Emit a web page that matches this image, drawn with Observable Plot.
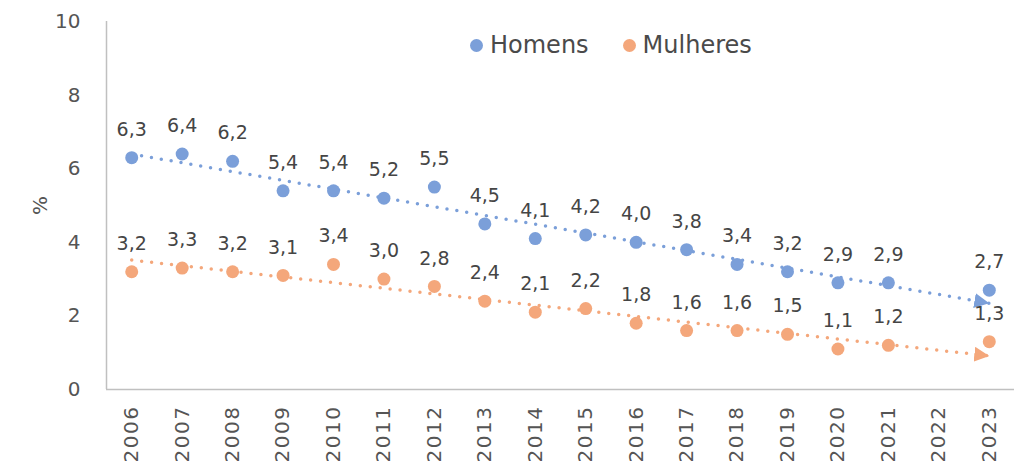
<!DOCTYPE html>
<html>
<head>
<meta charset="utf-8">
<script src="https://cdn.jsdelivr.net/npm/d3@7"></script>
<script src="https://cdn.jsdelivr.net/npm/@observablehq/plot@0.6"></script>
<style>
  body { margin: 0; background: #fff; font-family: "DejaVu Sans", sans-serif; }
  #wrap { position: relative; width: 1028px; height: 474px; }
  #legend { position: absolute; top: 31px; left: 470px; display: flex; align-items: center; font-size: 24px; color: #4a4a4a; white-space: nowrap; z-index: 2; }
  #legend .item { display: flex; align-items: center; margin-right: 34px; }
  #legend .sw { width: 13px; height: 13px; border-radius: 50%; margin-right: 7px; display: inline-block; }
  svg g[aria-label="x-axis tick label"] text { letter-spacing: 1.5px; }
</style>
</head>
<body>
<div id="wrap"><div id="legend"></div></div>
<script>
const years = [2006, 2007, 2008, 2009, 2010, 2011, 2012, 2013, 2014, 2015, 2016, 2017, 2018, 2019, 2020, 2021, 2022, 2023];
const homens = [6.3, 6.4, 6.2, 5.4, 5.4, 5.2, 5.5, 4.5, 4.1, 4.2, 4.0, 3.8, 3.4, 3.2, 2.9, 2.9, null, 2.7];
const mulheres = [3.2, 3.3, 3.2, 3.1, 3.4, 3.0, 2.8, 2.4, 2.1, 2.2, 1.8, 1.6, 1.6, 1.5, 1.1, 1.2, null, 1.3];
const seriesNames = ["Homens", "Mulheres"];
const seriesColors = ["#7b9fd9", "#f4a77b"];
const yTicks = [0, 2, 4, 6, 8, 10];
const yLabel = "%";

const seriesValues = [homens, mulheres];
const points = [];
seriesNames.forEach((s, k) => years.forEach((yr, i) => {
  if (seriesValues[k][i] != null) points.push({year: yr, value: seriesValues[k][i], series: s});
}));

// least-squares linear trend per series (computed from the data)
const trend = [];
seriesNames.forEach((s, k) => {
  const pts = points.filter(d => d.series === s);
  const mx = d3.mean(pts, d => d.year), my = d3.mean(pts, d => d.value);
  const b = d3.sum(pts, d => (d.year - mx) * (d.value - my)) / d3.sum(pts, d => (d.year - mx) ** 2);
  const a = my - b * mx;
  [years[0], years[years.length - 1]].forEach(x => trend.push({year: x, value: a + b * x, series: s}));
});

const NS = "http://www.w3.org/2000/svg";
function triangleMarker(color, context) {
  const doc = (context && context.document) || document;
  const m = doc.createElementNS(NS, "marker");
  m.setAttribute("viewBox", "-15 -7.5 15 15");
  m.setAttribute("markerUnits", "userSpaceOnUse");
  m.setAttribute("markerWidth", "15");
  m.setAttribute("markerHeight", "15");
  m.setAttribute("refX", "0");
  m.setAttribute("refY", "0");
  m.setAttribute("orient", "auto");
  const p = doc.createElementNS(NS, "path");
  p.setAttribute("d", "M-15,-7.5L0,0L-15,7.5Z");
  p.setAttribute("fill", color);
  p.setAttribute("stroke", "none");
  m.appendChild(p);
  return m;
}

const fmt = v => v.toFixed(1).replace(".", ",");

const chart = Plot.plot({
  width: 1028,
  height: 474,
  marginLeft: 106,
  marginRight: 14,
  marginTop: 21,
  marginBottom: 85,
  style: {fontFamily: "DejaVu Sans, sans-serif", fontSize: "19px", color: "#404040", background: "transparent"},
  x: {domain: [years[0] - 0.5, years[years.length - 1] + 0.5]},
  y: {domain: [0, 10]},
  color: {domain: seriesNames, range: seriesColors},
  marks: [
    Plot.ruleX([years[0] - 0.5], {stroke: "#c0c0c0", strokeWidth: 1.5}),
    Plot.ruleY([0], {stroke: "#c0c0c0", strokeWidth: 1.5}),
    Plot.axisY({ticks: yTicks, tickSize: 0, tickPadding: 26, fontSize: 20, fill: "#555555",
      label: yLabel, labelAnchor: "center", labelOffset: 74, labelArrow: "none"}),
    Plot.axisX({ticks: years, tickFormat: d => String(d), tickRotate: -90, tickSize: 0, tickPadding: 16,
      fontSize: 20, fill: "#555555", label: null}),
    Plot.line(trend, {x: "year", y: "value", z: "series", stroke: "series", strokeWidth: 3.5,
      strokeDasharray: "0,10", strokeLinecap: "round", markerEnd: triangleMarker}),
    Plot.dot(points, {x: "year", y: "value", fill: "series", r: 6.5}),
    Plot.text(points, {x: "year", y: "value", text: d => fmt(d.value), dy: -28, fontSize: 19, fill: "#454545"})
  ]
});
document.getElementById("wrap").appendChild(chart);

const legend = document.getElementById("legend");
seriesNames.forEach((s, k) => {
  const it = document.createElement("span");
  it.className = "item";
  const sw = document.createElement("span");
  sw.className = "sw";
  sw.style.background = seriesColors[k];
  it.appendChild(sw);
  it.appendChild(document.createTextNode(s));
  legend.appendChild(it);
});
</script>
</body>
</html>
